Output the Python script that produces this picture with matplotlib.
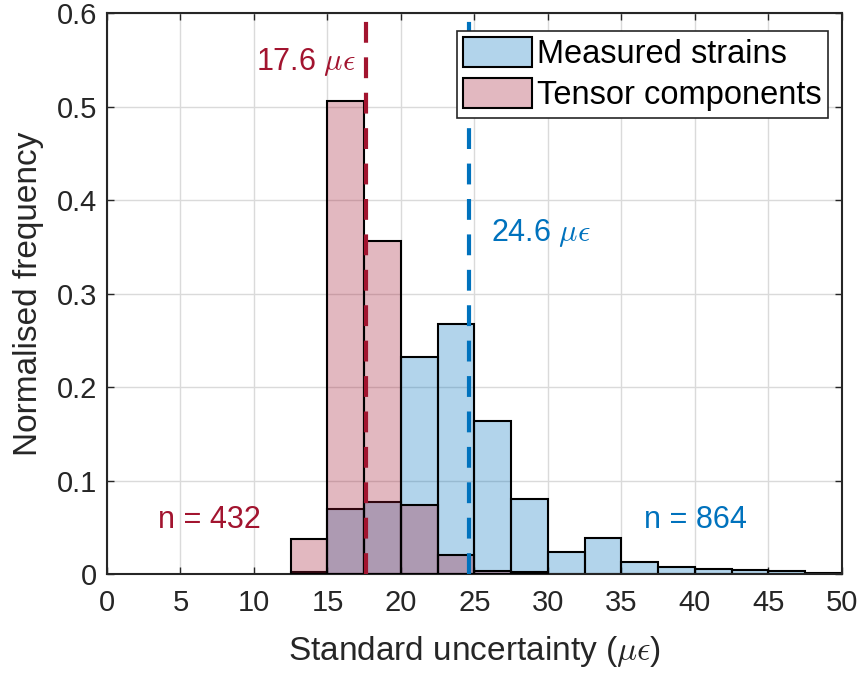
import matplotlib
matplotlib.use("Agg")
import matplotlib.pyplot as plt
from matplotlib.colors import to_rgba
import numpy as np

plt.rcParams['font.family'] = ['Liberation Sans', 'DejaVu Sans']
plt.rcParams['mathtext.fontset'] = 'cm'

bin_edges = [12.5, 15, 17.5, 20, 22.5, 25, 27.5, 30, 32.5, 35, 37.5, 40, 42.5, 45, 47.5, 50]
measured = [0.002, 0.070, 0.077, 0.232, 0.267, 0.164, 0.080, 0.024, 0.038, 0.013, 0.007, 0.005, 0.004, 0.003, 0.001]
tensor = [0.037, 0.506, 0.356, 0.074, 0.020, 0.003, 0.002, 0, 0, 0, 0, 0, 0, 0, 0]
mean_measured = 24.6
mean_tensor = 17.6
n_measured = 864
n_tensor = 432

blue = '#0072BD'
red = '#A2142F'
ink = '#262626'

fig = plt.figure(figsize=(8.64, 6.77), dpi=100)
ax = fig.add_axes([0.1238, 0.1521, 0.8507, 0.8287])

edges = np.array(bin_edges)
widths = np.diff(edges)
ax.bar(edges[:-1], measured, width=widths, align='edge', facecolor=to_rgba(blue, 0.3),
       edgecolor='black', linewidth=1.5, label='Measured strains', zorder=2)
mask = np.array(tensor) > 0
ax.bar(edges[:-1][mask], np.array(tensor)[mask], width=widths[mask], align='edge',
       facecolor=to_rgba(red, 0.3), edgecolor='black', linewidth=1.5,
       label='Tensor components', zorder=3)

ax.axvline(mean_tensor, color=red, linestyle=(0, (5, 3.5)), linewidth=3, zorder=4)
ax.axvline(mean_measured, color=blue, linestyle=(0, (5, 3.5)), linewidth=3, zorder=4)

ax.text(16.9, 0.548, f'{mean_tensor} $\\mu\\epsilon$', color=red, fontsize=22,
        ha='right', va='center')
ax.text(26.1, 0.365, f'{mean_measured} $\\mu\\epsilon$', color=blue, fontsize=22,
        ha='left', va='center')
ax.text(7.0, 0.058, f'n = {n_tensor}', color=red, fontsize=22, ha='center', va='center')
ax.text(40.0, 0.058, f'n = {n_measured}', color=blue, fontsize=22, ha='center', va='center')

ax.set_xlim(0, 50)
ax.set_ylim(0, 0.6)
ax.set_xticks(np.arange(0, 51, 5))
ax.set_yticks(np.arange(0, 0.61, 0.1))
ax.set_yticklabels(['0', '0.1', '0.2', '0.3', '0.4', '0.5', '0.6'])
ax.grid(True, color='#DADADA', linewidth=1.0, zorder=0)
ax.set_axisbelow(True)
ax.tick_params(direction='in', length=5, width=1, labelsize=21, colors=ink,
               top=True, right=True)
ax.tick_params(axis='x', pad=11)
ax.tick_params(axis='y', pad=7)
for s in ax.spines.values():
    s.set_linewidth(1.5)
    s.set_color(ink)

ax.set_xlabel('Standard uncertainty ($\\mu\\epsilon$)', fontsize=24, color=ink, labelpad=12)
ax.set_ylabel('Normalised frequency', fontsize=24, color=ink, labelpad=9)

leg = ax.legend(loc='upper right', fontsize=23.5, frameon=True, fancybox=False,
                edgecolor=ink, framealpha=1, borderpad=0.2, handlelength=2.1,
                handleheight=1.0, handletextpad=0.15, labelspacing=0.25,
                borderaxespad=0, bbox_to_anchor=(0.981, 0.968))
leg.get_frame().set_linewidth(1.2)

fig.savefig('out.png', dpi=100, facecolor='white')
